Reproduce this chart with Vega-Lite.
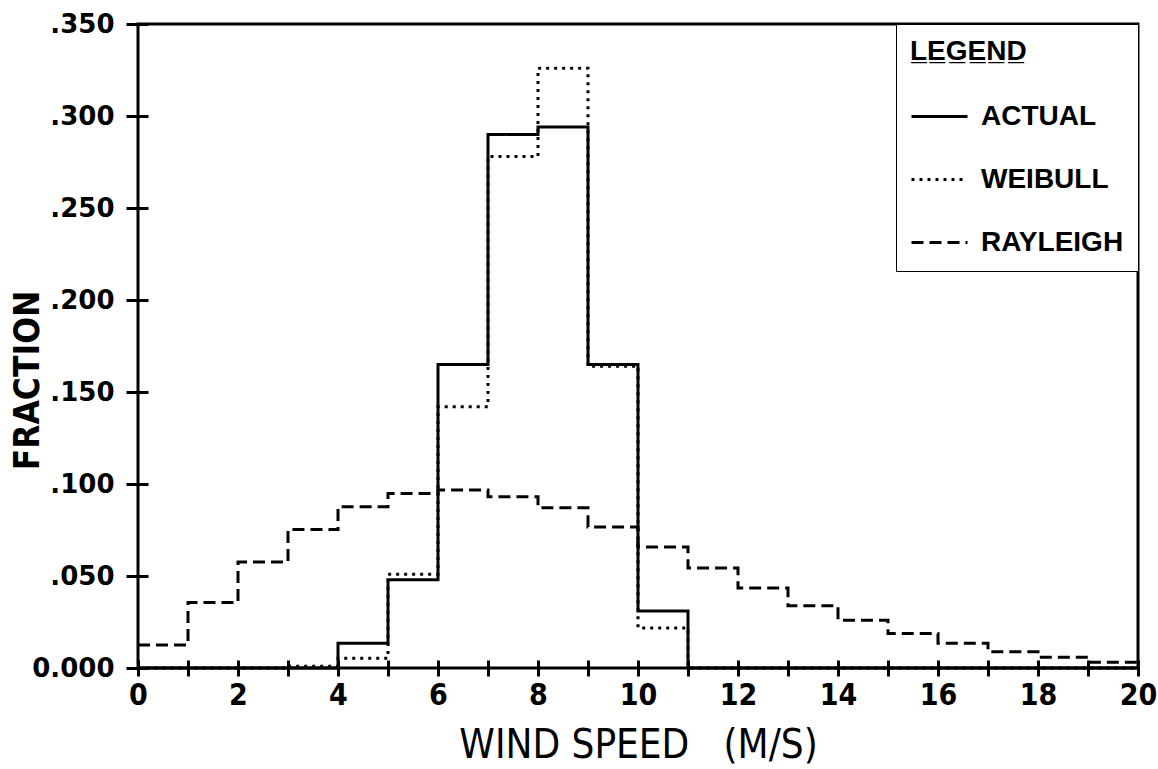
{
  "$schema": "https://vega.github.io/schema/vega-lite/v6.json",
  "width": 1000,
  "height": 644,
  "autosize": {"type": "none"},
  "padding": {"left": 138, "top": 24, "right": 20, "bottom": 101},
  "background": "white",
  "config": {
    "view": {"stroke": "black", "strokeWidth": 3},
    "font": "Liberation Sans",
    "axis": {
      "ticks": true,
      "tickColor": "black",
      "tickWidth": 3,
      "tickOpacity": 1,
      "domain": false,
      "grid": false,
      "labelColor": "black",
      "labelFontWeight": "bold",
      "labelFlush": false,
      "titleColor": "black"
    },
    "axisX": {
      "tickSize": 16,
      "labelFont": "DejaVu Sans Condensed",
      "labelFontSize": 30,
      "labelPadding": 4,
      "titleFont": "DejaVu Sans Condensed",
      "titleFontSize": 40,
      "titleFontWeight": "normal",
      "titlePadding": 15
    },
    "axisY": {
      "tickSize": 22,
      "labelFont": "DejaVu Sans",
      "labelFontSize": 26,
      "labelPadding": 12,
      "titleFont": "DejaVu Sans Condensed",
      "titleFontSize": 35,
      "titleFontWeight": "bold"
    }
  },
  "data": {
    "values": [
      {"series": "ACTUAL", "speed": 0, "fraction": 0},
      {"series": "ACTUAL", "speed": 1, "fraction": 0},
      {"series": "ACTUAL", "speed": 2, "fraction": 0},
      {"series": "ACTUAL", "speed": 3, "fraction": 0},
      {"series": "ACTUAL", "speed": 4, "fraction": 0.0135},
      {"series": "ACTUAL", "speed": 5, "fraction": 0.048},
      {"series": "ACTUAL", "speed": 6, "fraction": 0.165},
      {"series": "ACTUAL", "speed": 7, "fraction": 0.290},
      {"series": "ACTUAL", "speed": 8, "fraction": 0.294},
      {"series": "ACTUAL", "speed": 9, "fraction": 0.165},
      {"series": "ACTUAL", "speed": 10, "fraction": 0.031},
      {"series": "ACTUAL", "speed": 11, "fraction": 0},
      {"series": "ACTUAL", "speed": 12, "fraction": 0},
      {"series": "ACTUAL", "speed": 13, "fraction": 0},
      {"series": "ACTUAL", "speed": 14, "fraction": 0},
      {"series": "ACTUAL", "speed": 15, "fraction": 0},
      {"series": "ACTUAL", "speed": 16, "fraction": 0},
      {"series": "ACTUAL", "speed": 17, "fraction": 0},
      {"series": "ACTUAL", "speed": 18, "fraction": 0},
      {"series": "ACTUAL", "speed": 19, "fraction": 0},
      {"series": "ACTUAL", "speed": 20, "fraction": 0},
      {"series": "WEIBULL", "speed": 0, "fraction": 0},
      {"series": "WEIBULL", "speed": 1, "fraction": 0},
      {"series": "WEIBULL", "speed": 2, "fraction": 0},
      {"series": "WEIBULL", "speed": 3, "fraction": 0.001},
      {"series": "WEIBULL", "speed": 4, "fraction": 0.0053},
      {"series": "WEIBULL", "speed": 5, "fraction": 0.051},
      {"series": "WEIBULL", "speed": 6, "fraction": 0.142},
      {"series": "WEIBULL", "speed": 7, "fraction": 0.278},
      {"series": "WEIBULL", "speed": 8, "fraction": 0.326},
      {"series": "WEIBULL", "speed": 9, "fraction": 0.164},
      {"series": "WEIBULL", "speed": 10, "fraction": 0.0217},
      {"series": "WEIBULL", "speed": 11, "fraction": 0},
      {"series": "WEIBULL", "speed": 12, "fraction": 0},
      {"series": "WEIBULL", "speed": 13, "fraction": 0},
      {"series": "WEIBULL", "speed": 14, "fraction": 0},
      {"series": "WEIBULL", "speed": 15, "fraction": 0},
      {"series": "WEIBULL", "speed": 16, "fraction": 0},
      {"series": "WEIBULL", "speed": 17, "fraction": 0},
      {"series": "WEIBULL", "speed": 18, "fraction": 0},
      {"series": "WEIBULL", "speed": 19, "fraction": 0},
      {"series": "WEIBULL", "speed": 20, "fraction": 0},
      {"series": "RAYLEIGH", "speed": 0, "fraction": 0.0125},
      {"series": "RAYLEIGH", "speed": 1, "fraction": 0.0356},
      {"series": "RAYLEIGH", "speed": 2, "fraction": 0.0576},
      {"series": "RAYLEIGH", "speed": 3, "fraction": 0.0753},
      {"series": "RAYLEIGH", "speed": 4, "fraction": 0.0877},
      {"series": "RAYLEIGH", "speed": 5, "fraction": 0.0948},
      {"series": "RAYLEIGH", "speed": 6, "fraction": 0.0967},
      {"series": "RAYLEIGH", "speed": 7, "fraction": 0.0931},
      {"series": "RAYLEIGH", "speed": 8, "fraction": 0.0871},
      {"series": "RAYLEIGH", "speed": 9, "fraction": 0.0766},
      {"series": "RAYLEIGH", "speed": 10, "fraction": 0.0657},
      {"series": "RAYLEIGH", "speed": 11, "fraction": 0.0543},
      {"series": "RAYLEIGH", "speed": 12, "fraction": 0.0435},
      {"series": "RAYLEIGH", "speed": 13, "fraction": 0.0338},
      {"series": "RAYLEIGH", "speed": 14, "fraction": 0.026},
      {"series": "RAYLEIGH", "speed": 15, "fraction": 0.0188},
      {"series": "RAYLEIGH", "speed": 16, "fraction": 0.0134},
      {"series": "RAYLEIGH", "speed": 17, "fraction": 0.0088},
      {"series": "RAYLEIGH", "speed": 18, "fraction": 0.0058},
      {"series": "RAYLEIGH", "speed": 19, "fraction": 0.0031},
      {"series": "RAYLEIGH", "speed": 20, "fraction": 0.0031}
    ]
  },
  "mark": {"type": "line", "interpolate": "step-after", "color": "black", "strokeWidth": 3},
  "encoding": {
    "x": {
      "field": "speed",
      "type": "quantitative",
      "scale": {"domain": [0, 20], "nice": false, "zero": false},
      "axis": {
        "tickCount": 20,
        "labelExpr": "datum.value % 2 == 0 ? datum.label : ''",
        "offset": -8,
        "title": "WIND SPEED\u00a0\u00a0\u00a0(M/S)"
      }
    },
    "y": {
      "field": "fraction",
      "type": "quantitative",
      "scale": {"domain": [0, 0.35], "nice": false},
      "axis": {
        "tickCount": 7,
        "labelExpr": "datum.value == 0 ? '0.000' : substring(format(datum.value, '.3f'), 1)",
        "offset": -10,
        "title": "FRACTION",
        "titleX": -110,
        "titleY": 356,
        "titleBaseline": "alphabetic"
      }
    },
    "strokeDash": {
      "field": "series",
      "type": "nominal",
      "scale": {"domain": ["ACTUAL", "WEIBULL", "RAYLEIGH"], "range": [[1, 0], [3, 5], [12, 6]]},
      "legend": {
        "title": "L\u0332E\u0332G\u0332E\u0332N\u0332D\u0332",
        "orient": "top-right",
        "offset": 0,
        "padding": 14,
        "strokeColor": "black",
        "fillColor": "white",
        "symbolType": "stroke",
        "symbolSize": 3136,
        "symbolStrokeWidth": 3,
        "symbolStrokeColor": "black",
        "labelFont": "Liberation Sans",
        "labelFontWeight": "bold",
        "labelFontSize": 28,
        "labelColor": "black",
        "labelOffset": 12,
        "rowPadding": 19,
        "titleFont": "Liberation Sans",
        "titleFontWeight": "bold",
        "titleFontSize": 28,
        "titleColor": "black",
        "titlePadding": 21
      }
    }
  }
}
